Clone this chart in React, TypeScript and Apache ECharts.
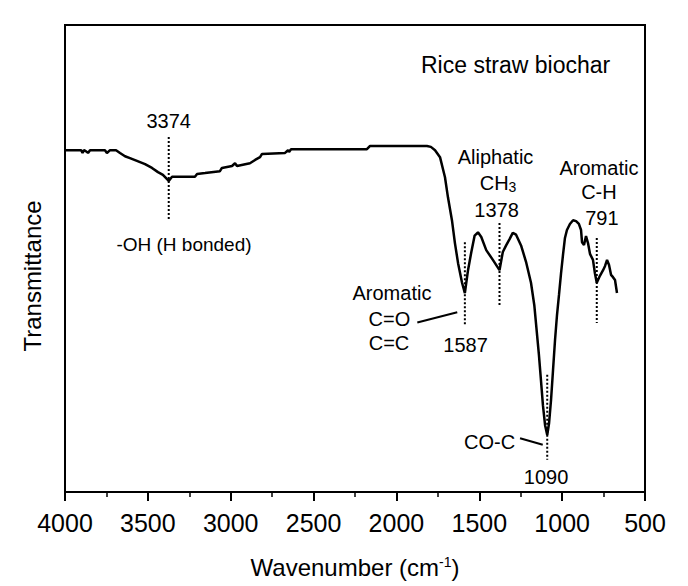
import React, { useEffect, useRef } from "react";
import * as echarts from "echarts";

// Spectrum (wavenumber, cm-1) and transmittance (arbitrary units)
const wavenumber = [
  4000, 3903, 3894, 3885, 3867, 3861, 3849, 3759, 3747, 3728, 3692, 3668, 3638, 3608, 3566, 3517,
  3475, 3439, 3409, 3374, 3354, 3342, 3216, 3203, 3155, 3065, 3053, 2992, 2974, 2962, 2884, 2853,
  2823, 2811, 2672, 2654, 2648, 2636, 2178, 2159, 1816, 1792, 1767, 1737, 1707, 1689, 1665, 1647,
  1628, 1604, 1587, 1568, 1548, 1528, 1508, 1488, 1458, 1418, 1378, 1358, 1338, 1318, 1298, 1278,
  1248, 1218, 1188, 1168, 1140, 1128, 1116, 1103, 1090, 1079, 1067, 1055, 1043, 1031, 1019, 1007,
  995, 983, 971, 953, 934, 916, 899, 886, 880, 868, 856, 844, 832, 814, 802, 791, 772, 753, 741,
  729, 717, 705, 693, 681, 669,
];
const transmittance = [
  73.2, 73.2, 72.6, 73.2, 72.8, 72.6, 73.2, 73.2, 72.6, 73.2, 73.2, 72.6, 71.9, 71.5, 70.9, 70.2,
  69.4, 68.5, 67.9, 66.6, 67.5, 67.5, 67.5, 68.1, 68.3, 68.7, 69.4, 69.8, 70.4, 69.8, 70.4, 71.1,
  71.7, 72.4, 72.6, 73.2, 72.8, 73.4, 73.4, 74.1, 74.1, 73.9, 73.2, 71.7, 67.4, 63.1, 58.2, 53.3,
  49.0, 44.8, 42.6, 47.5, 51.4, 54.9, 55.6, 54.6, 51.8, 49.7, 47.5, 51.4, 52.8, 54.1, 55.5, 55.1,
  52.8, 49.3, 44.8, 40.0, 29.3, 24.0, 18.6, 14.3, 12.2, 14.7, 19.7, 26.1, 32.5, 37.9, 42.2, 46.7,
  50.7, 54.4, 56.1, 57.4, 58.2, 58.0, 57.4, 56.1, 53.5, 52.9, 54.8, 53.3, 51.0, 49.7, 46.8, 44.8,
  46.3, 47.5, 48.4, 49.7, 48.6, 46.5, 46.0, 45.4, 42.6,
];

// Band markers: wavenumber, dotted line from/to transmittance
const markerWave = [3374, 1587, 1378, 791, 1090];
const markerFrom = [76.0, 53.5, 57.6, 54.4, 25.1];
const markerTo = [58.2, 35.8, 39.6, 36.2, 6.9];

// Leader lines: [wavenumber, T] start and end
const leaderStartWave = [1874, 1254];
const leaderStartT = [36.3, 11.5];
const leaderEndWave = [1633, 1117];
const leaderEndT = [38.5, 10.1];

// Annotation texts and their anchors
const noteText = [
  "3374",
  "-OH (H bonded)",
  "Aliphatic",
  "{a|CH}{b|3}",
  "1378",
  "Aromatic",
  "C-H",
  "791",
  "Aromatic",
  "C=O",
  "C=C",
  "1587",
  "CO-C",
  "1090",
  "Rice straw biochar",
];
const noteWave = [3374, 3282, 1402, 1387, 1396, 778, 778, 760, 2027, 2042, 2045, 1583, 1438, 1097, 1281];
const noteT = [79.5, 52.9, 71.7, 66.2, 60.4, 69.4, 64.2, 58.7, 42.6, 37.0, 31.9, 31.5, 10.7, 3.2, 91.4];
const noteSize = [20, 19, 20, 20, 20, 20, 20, 20, 20, 20, 20, 20, 20, 20, 23];

const xTicks = [500, 4000, 500]; // min, max, interval

const FONT = "'Liberation Sans', Arial, sans-serif";

export default function App() {
  const ref = useRef<HTMLDivElement>(null);
  useEffect(() => {
    if (!ref.current) return;
    const chart = echarts.init(ref.current, undefined, { renderer: "svg" });

    const spectrum = wavenumber.map((w, i) => [w, transmittance[i]]);
    const markerSeries = markerWave.map((w, i) => ({
      type: "line",
      data: [
        [w, markerFrom[i]],
        [w, markerTo[i]],
      ],
      showSymbol: false,
      symbol: "none",
      silent: true,
      lineStyle: { color: "#000", width: 2, type: [2, 2] },
    }));
    const leaderSeries = leaderStartWave.map((w, i) => ({
      type: "line",
      data: [
        [w, leaderStartT[i]],
        [leaderEndWave[i], leaderEndT[i]],
      ],
      showSymbol: false,
      symbol: "none",
      silent: true,
      lineStyle: { color: "#000", width: 2 },
    }));
    const notes = noteText.map((t, i) => ({
      value: [noteWave[i], noteT[i]],
      label: {
        show: true,
        formatter: t,
        fontSize: noteSize[i],
        fontFamily: FONT,
        color: "#000",
        textBorderWidth: 0,
        opacity: 1,
        rich: {
          a: { fontSize: 20, fontFamily: FONT, color: "#000", textBorderWidth: 0 },
          b: {
            fontSize: 14,
            fontFamily: FONT,
            color: "#000",
            textBorderWidth: 0,
            verticalAlign: "bottom",
            padding: [8, 0, 0, 0],
          },
        },
      },
    }));

    chart.setOption({
      animation: false,
      backgroundColor: "#fff",
      textStyle: { fontFamily: FONT, color: "#000" },
      grid: {
        left: 65,
        right: 43,
        top: 25,
        bottom: 94,
        show: true,
        borderColor: "#000",
        borderWidth: 2,
        backgroundColor: "transparent",
      },
      xAxis: {
        type: "value",
        min: xTicks[0],
        max: xTicks[1],
        interval: xTicks[2],
        inverse: true,
        axisLine: { show: true, lineStyle: { color: "#000", width: 2 } },
        axisTick: { show: true, inside: false, length: 9, lineStyle: { color: "#000", width: 2 } },
        minorTick: { show: true, splitNumber: 2, length: 5, lineStyle: { color: "#000", width: 1.5 } },
        splitLine: { show: false },
        minorSplitLine: { show: false },
        axisLabel: {
          fontSize: 25,
          color: "#000",
          fontFamily: FONT,
          margin: 18,
          formatter: (v: number) => String(v),
        },
        name: "{a|Wavenumber (cm}{s|-1}{a|)}",
        nameLocation: "middle",
        nameGap: 63,
        nameTextStyle: {
          rich: {
            a: { fontSize: 24, fontFamily: FONT, color: "#000" },
            s: { fontSize: 14, fontFamily: FONT, color: "#000", verticalAlign: "top" },
          },
        },
      },
      yAxis: {
        type: "value",
        min: 0,
        max: 100,
        show: false,
      },
      graphic: [
        {
          type: "text",
          x: 32,
          y: 276,
          rotation: Math.PI / 2,
          style: {
            text: "Transmittance",
            fontSize: 24,
            fontFamily: FONT,
            fill: "#000",
            align: "center",
            verticalAlign: "middle",
          },
        },
      ],
      series: [
        {
          type: "line",
          data: spectrum,
          showSymbol: false,
          symbol: "none",
          silent: true,
          lineStyle: { color: "#000", width: 2.5 },
        },
        ...markerSeries,
        ...leaderSeries,
        {
          type: "scatter",
          symbolSize: 0,
          silent: true,
          itemStyle: { color: "#000", opacity: 1 },
          data: notes,
          label: { show: true, position: "inside", align: "center", verticalAlign: "middle", color: "#000" },
        },
      ],
    });
    return () => chart.dispose();
  }, []);
  return <div ref={ref} style={{ position: "absolute", left: 0, top: 0, width: 688, height: 586 }} />;
}
